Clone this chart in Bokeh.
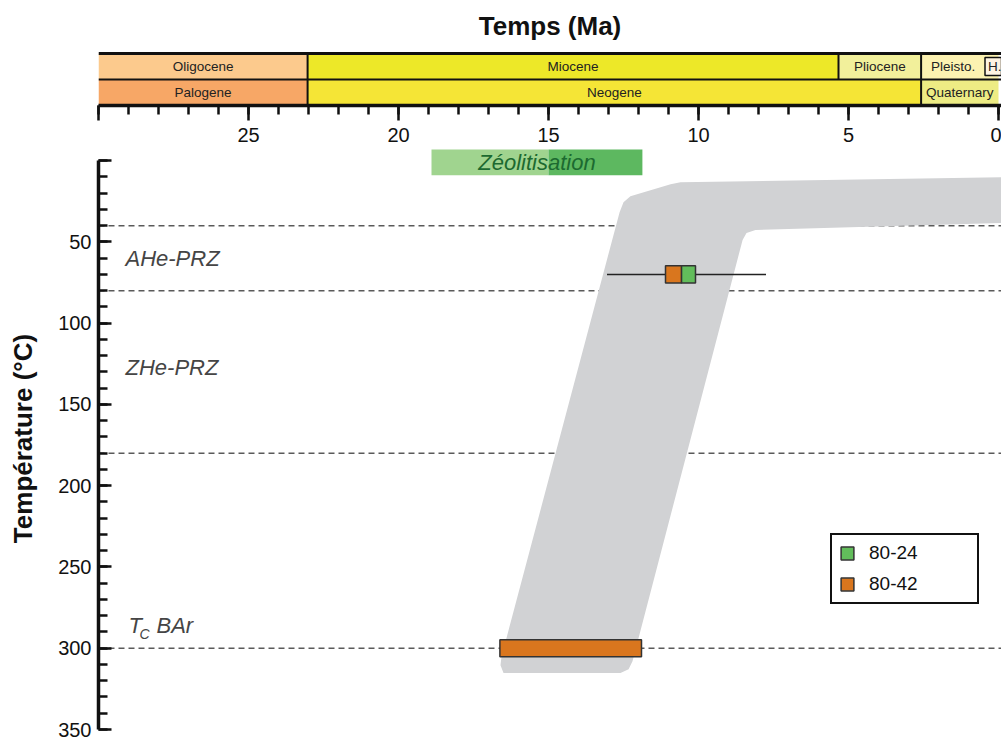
from bokeh.plotting import figure
from bokeh.layouts import column
from bokeh.models import Range1d, FixedTicker, Span, Legend, LegendItem
from bokeh.embed import file_html
from bokeh.resources import INLINE
from bokeh.core.properties import value

FONT = "Liberation Sans"

# ---------------- data ----------------
title_text = "Temps (Ma)"

epochs = ["Oligocene", "Miocene", "Pliocene", "Pleisto."]
epoch_start = [30.0, 23.03, 5.333, 2.58]
epoch_end = [23.03, 5.333, 2.58, 0.0]
epoch_colors = ["#FCCA8D", "#EDE828", "#F2F09B", "#FCF2B1"]
holocene_label = "H."
holocene_start = 0.45      # drawn wider than its true length, as in the source
holocene_color = "#FEF3E2"

periods = ["Palogene", "Neogene", "Quaternary"]
period_start = [30.0, 23.03, 2.58]
period_end = [23.03, 2.58, 0.0]
period_colors = ["#F7A766", "#F5E536", "#EDEC84"]

time_major_ticks = [30, 25, 20, 15, 10, 5, 0]
time_minor_ticks = list(range(0, 31))
temp_major_ticks = [0, 50, 100, 150, 200, 250, 300, 350]
temp_minor_ticks = list(range(0, 351, 10))

zeol_label = "Zéolitisation"
zeol_start = [18.9, 15.0]
zeol_end = [15.0, 11.87]
zeol_colors = ["#A0D48F", "#5DB860"]

prz_limits = [40, 80, 180, 300]
zone_labels = ["AHe-PRZ", "ZHe-PRZ"]
zone_label_temp = [60, 127]
tc_label_temp = 286

# thermal-history envelope (age Ma, temperature °C)
env_age = [16.50, 16.60, 16.57, 12.63, 12.50, 12.27, 10.93, 10.60, -0.10,
           -0.10, 8.10, 8.40, 8.53, 12.20, 12.33, 12.60]
env_temp = [315.3, 310.4, 305.5, 31.7, 25.6, 21.9, 14.5, 13.3, 10.3,
            38.4, 42.7, 44.5, 48.8, 308.0, 312.9, 315.3]

# samples
s2424_age_old = [10.57]
s2424_age_young = [10.10]
s2424_temp = [70]
s4242_age_old = [11.10, 16.62]
s4242_age_young = [10.57, 11.90]
s4242_temp = [70, 300]
err_age_old = [13.05]
err_age_young = [7.75]
err_temp = [70]

# ---------------- layout constants ----------------
W = 1001
XR = Range1d(30, -0.1)
ROW_PX = 26.0            # height of one timescale row in pixels
TOP_FRAME_PX = 105       # frame of the top figure spans canvas rows 0..105

# ---------------- top: title + time scale ----------------
top = figure(width=W, height=147, x_range=XR, y_range=Range1d(0, TOP_FRAME_PX / ROW_PX),
             output_backend="svg", toolbar_location=None, y_axis_location=None,
             min_border_left=98, min_border_right=0,
             min_border_top=0, min_border_bottom=42)
top.outline_line_color = None
top.grid.visible = False
top.background_fill_color = None
top.border_fill_color = None

top.text(x=[(XR.start + XR.end) / 2], y=[2 + 28 / ROW_PX], text=[title_text],
         text_align="center", text_baseline="middle",
         text_font=value(FONT), text_font_size="26px", text_font_style="bold",
         text_color="#111111")

top.quad(left=epoch_start, right=epoch_end, bottom=1, top=2,
         fill_color=epoch_colors, line_color=None)
top.quad(left=period_start, right=period_end, bottom=0, top=1,
         fill_color=period_colors, line_color=None)
top.quad(left=[holocene_start], right=[-0.1], bottom=[1.15], top=[1.85],
         fill_color=holocene_color, line_color="#111111", line_width=1.5)

# dividers
top.segment(x0=[23.03, 5.333, 2.58], y0=[0, 1, 0], x1=[23.03, 5.333, 2.58], y1=[2, 2, 2],
            line_color="#111111", line_width=2)
top.segment(x0=[30, 30], y0=[1, 2], x1=[-0.1, -0.1], y1=[1, 2],
            line_color="#111111", line_width=[2, 3])

ep_centers = [(a + max(b, holocene_start)) / 2 if a < 3 else (a + b) / 2
              for a, b in zip(epoch_start, epoch_end)]
pe_centers = [(a + b) / 2 for a, b in zip(period_start, period_end)]
top.text(x=ep_centers, y=[1.5] * len(epochs), text=epochs,
         text_align="center", text_baseline="middle",
         text_font=value(FONT), text_font_size="13.5px", text_color="#222222")
top.text(x=pe_centers, y=[0.5] * len(periods), text=periods,
         text_align="center", text_baseline="middle",
         text_font=value(FONT), text_font_size="13.5px", text_color="#222222")
top.text(x=[holocene_start], y=[1.5], text=[holocene_label], x_offset=3,
         text_align="left", text_baseline="middle",
         text_font=value(FONT), text_font_size="13.5px", text_color="#222222")

xa = top.xaxis[0]
xa.ticker = FixedTicker(ticks=time_major_ticks, minor_ticks=time_minor_ticks)
xa.major_label_overrides = {30: ""}
xa.axis_line_width = 3.5
xa.axis_line_color = "#111111"
xa.major_tick_in = 0
xa.major_tick_out = 15
xa.minor_tick_in = 0
xa.minor_tick_out = 9
xa.major_tick_line_width = 2.5
xa.minor_tick_line_width = 2.5
xa.major_tick_line_color = "#111111"
xa.minor_tick_line_color = "#111111"
xa.major_label_text_font = FONT
xa.major_label_text_font_size = "20px"
xa.major_label_text_color = "#111111"
xa.major_label_standoff = 7

# ---------------- main: temperature vs time ----------------
main = figure(width=W, height=593, x_range=XR, y_range=Range1d(350, -8.07),
              output_backend="svg", toolbar_location=None,
              x_axis_location=None,
              min_border_left=98, min_border_right=0,
              min_border_top=0, min_border_bottom=11)
main.outline_line_color = None
main.grid.visible = False
main.background_fill_color = None
main.border_fill_color = None

for t in prz_limits:
    main.add_layout(Span(location=t, dimension="width", line_color="#5a5a5a",
                         line_width=1.5, line_dash="6 4", level="underlay"))

main.quad(left=zeol_start, right=zeol_end, bottom=-6.8, top=9.0,
          fill_color=zeol_colors, line_color=None)
main.text(x=[(zeol_start[0] + zeol_end[-1]) / 2], y=[1.2], text=[zeol_label],
          text_align="center", text_baseline="middle",
          text_font=value(FONT), text_font_size="22px", text_font_style="italic",
          text_color="#1C6A30")

main.patch(env_age, env_temp, fill_color="#D1D2D4", line_color=None)

for lab, t in zip(zone_labels, zone_label_temp):
    main.text(x=[29.1], y=[t], text=[lab], text_align="left", text_baseline="middle",
              text_font=value(FONT), text_font_size="22px", text_font_style="italic",
              text_color="#454545")
main.text(x=[29.0], y=[tc_label_temp], text=["T"], text_align="left", text_baseline="middle",
          text_font=value(FONT), text_font_size="22px", text_font_style="italic",
          text_color="#454545")
main.text(x=[29.0], y=[tc_label_temp], text=["C"], x_offset=11, y_offset=9,
          text_align="left", text_baseline="middle",
          text_font=value(FONT), text_font_size="14px", text_font_style="italic",
          text_color="#454545")
main.text(x=[29.0], y=[tc_label_temp], text=["BAr"], x_offset=28,
          text_align="left", text_baseline="middle",
          text_font=value(FONT), text_font_size="22px", text_font_style="italic",
          text_color="#454545")

main.segment(x0=err_age_old, y0=err_temp, x1=err_age_young, y1=err_temp,
             line_color="#222222", line_width=1.5)

r_green = main.hbar(y=s2424_temp, left=s2424_age_old, right=s2424_age_young, height=10.5,
                    fill_color="#62BD5B", line_color="#333333", line_width=1.5)
r_orange = main.hbar(y=s4242_temp, left=s4242_age_old, right=s4242_age_young, height=10.5,
                     fill_color="#D9761E", line_color="#333333", line_width=1.5)

ya = main.yaxis[0]
ya.ticker = FixedTicker(ticks=temp_major_ticks, minor_ticks=temp_minor_ticks)
ya.major_label_overrides = {0: ""}
ya.bounds = (0, 350)
ya.axis_line_width = 3.5
ya.axis_line_color = "#111111"
ya.major_tick_in = 13
ya.major_tick_out = 0
ya.minor_tick_in = 9
ya.minor_tick_out = 0
ya.major_tick_line_width = 2.5
ya.minor_tick_line_width = 2.5
ya.major_tick_line_color = "#111111"
ya.minor_tick_line_color = "#111111"
ya.major_label_text_font = FONT
ya.major_label_text_font_size = "20px"
ya.major_label_text_color = "#111111"
ya.major_label_standoff = 7
ya.axis_label = "Température (°C)"
ya.axis_label_text_font = FONT
ya.axis_label_text_font_size = "26px"
ya.axis_label_text_font_style = "bold"
ya.axis_label_text_color = "#111111"
ya.axis_label_standoff = 17

legend = Legend(items=[LegendItem(label="80-24", renderers=[r_green]),
                       LegendItem(label="80-42", renderers=[r_orange])],
                location=(732, 125), orientation="vertical",
                border_line_color="#111111", border_line_width=2, border_line_alpha=1,
                background_fill_color="white", background_fill_alpha=1,
                padding=7, spacing=9, margin=0,
                glyph_width=16, glyph_height=16, label_height=20, label_width=101,
                label_standoff=14, label_text_font=FONT, label_text_font_size="19px",
                label_text_color="#111111")
main.add_layout(legend)

layout = column(top, main, spacing=0)
open("out.html", "w").write(file_html(layout, INLINE))
